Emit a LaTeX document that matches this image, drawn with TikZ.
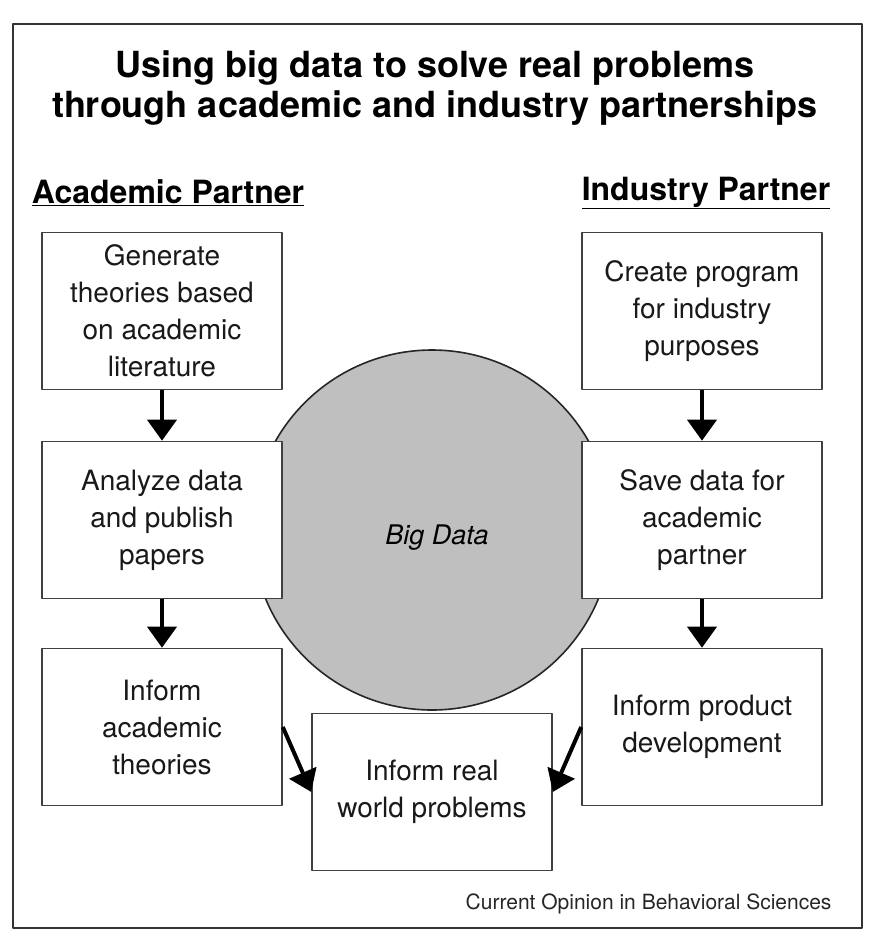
\documentclass[tikz,border=0pt]{standalone}
\usepackage{fontspec}
\setmainfont{TeX Gyre Heros}
\usetikzlibrary{arrows.meta}
\begin{document}
\begin{tikzpicture}[x=1pt, y=-1pt, line join=round,
    box/.style={draw=black!75, line width=1.6pt, fill=white, minimum width=240pt, minimum height=157pt,
        align=center, text=black!90, font=\fontsize{28}{37}\selectfont},
    heading/.style={font=\bfseries\fontsize{32}{38}\selectfont},
    flow/.style={line width=4pt, -{Triangle[length=21pt,width=29pt]}}]
    \useasboundingbox (0,0) rectangle (884,948);
    \draw[black!80, line width=2pt] (13,24) rectangle (862,928);
    \node[font=\bfseries\fontsize{36}{40}\selectfont, align=center] (title) at (435,88)
        {Using big data to solve real problems\\through academic and industry partnerships};
    \node[heading] (acad) at (168,193) {\underline{Academic Partner}};
    \node[heading] (ind) at (706,193) {\underline{Industry Partner}};
    % big data in the middle
    \draw[black!85, line width=1.6pt, fill=black!25] (432,530) circle (180);
    \node[font=\itshape\fontsize{27}{32}\selectfont] (bigdata) at (437,538) {Big Data};
    % academic side
    \node[box] (gen) at (162,311) {Generate\\theories based\\on academic\\literature};
    \node[box] (analyze) at (162,520) {Analyze data\\and publish\\papers};
    \node[box] (theories) at (162,727) {Inform\\academic\\theories};
    % industry side
    \node[box] (create) at (702,311) {Create program\\for industry\\purposes};
    \node[box] (save) at (702,520) {Save data for\\academic\\partner};
    \node[box] (product) at (702,727) {Inform product\\development};
    \node[box] (real) at (432,792) {Inform real\\world problems};
    \draw[flow] (gen) -- (analyze);
    \draw[flow] (analyze) -- (theories);
    \draw[flow] (create) -- (save);
    \draw[flow] (save) -- (product);
    \draw[flow] (theories.east) -- (real.west);
    \draw[flow] (product.west) -- (real.east);
    \node[anchor=base east, text=black!85, font=\fontsize{21}{24}\selectfont] (source) at (835,909)
        {Current Opinion in Behavioral Sciences};
\end{tikzpicture}
\end{document}
